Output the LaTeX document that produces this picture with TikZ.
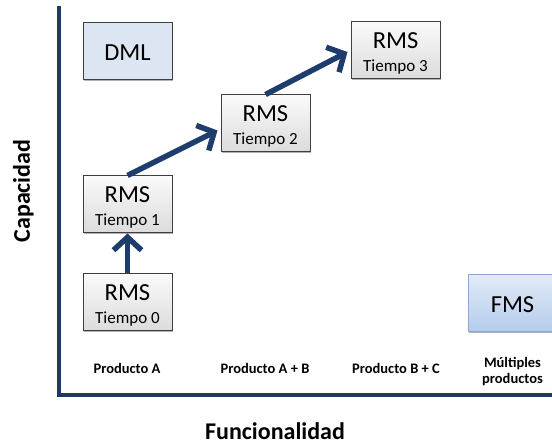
\documentclass[tikz,border=0pt]{standalone}
\usepackage{fontspec}
\setmainfont{Carlito}
\usetikzlibrary{arrows.meta,shadows,calc}

\definecolor{navy}{HTML}{1F3864}
\definecolor{arrowblue}{HTML}{1E3C6C}
\definecolor{boxedge}{HTML}{3F3F3F}
\definecolor{dmlfill}{HTML}{DCE6F2}
\definecolor{fmstop}{HTML}{E2EBF8}
\definecolor{fmsbot}{HTML}{B4CCEC}
\definecolor{fmsedge}{HTML}{8DA9CF}

\begin{document}
\begin{tikzpicture}[x=1pt,y=-1pt,
  stagebox/.style={draw=boxedge, line width=1pt, minimum width=89pt,
    minimum height=57pt, inner sep=0pt,
    drop shadow={shadow xshift=1.2pt, shadow yshift=-1.4pt, opacity=0.3, fill=black}},
  rmsbox/.style={stagebox, top color=gray!4, bottom color=gray!28},
  dmlbox/.style={stagebox, fill=dmlfill},
  fmsbox/.style={stagebox, draw=fmsedge, top color=fmstop, bottom color=fmsbot},
  bigtxt/.style={font=\fontsize{24.5}{28}\selectfont, inner sep=0pt, anchor=base},
  smalltxt/.style={font=\fontsize{17}{20}\selectfont, inner sep=0pt, anchor=base},
  prodtxt/.style={font=\fontsize{14.5}{17}\selectfont\bfseries, inner sep=0pt, anchor=base},
  axistxt/.style={font=\fontsize{24}{28}\selectfont\bfseries, inner sep=0pt, anchor=base},
  axisline/.style={draw=navy, line width=4.5pt, line join=miter},
  flow/.style={draw=arrowblue, line width=5.5pt,
    -{Straight Barb[length=13pt,width=28pt]}}
]
\clip (0,0) rectangle (552,446);

% axes
\coordinate (ytop) at (59,6);
\coordinate (origin) at (59,395);
\coordinate (xend) at (556,395);
\draw[axisline] (ytop) -- (origin) -- (xend);

% stage boxes
\node[dmlbox] (DML) at (127.5,51.5) {};
\node[rmsbox] (T0) at (127.5,302.5) {};
\node[rmsbox] (T1) at (127.5,204.5) {};
\node[rmsbox] (T2) at (265.5,123.5) {};
\node[rmsbox] (T3) at (395.5,50.5) {};
\node[fmsbox] (FMS) at (512.5,303) {};

% box texts
\node[bigtxt] (DMLt) at ($(DML.center)+(0,9.5)$) {DML};
\node[bigtxt] (FMSt) at ($(FMS.center)+(0,10)$) {FMS};
\foreach \n/\t in {T0/0,T1/1,T2/2,T3/3}{
  \node[bigtxt] (\n a) at ($(\n.center)+(0,-1.5)$) {RMS};
  \node[smalltxt] (\n b) at ($(\n.center)+(0,21.5)$) {Tiempo \t};
}

% evolution arrows
\draw[flow] (T0.north) -- (T1.south);
\draw[flow] (T1.north) -- ($(T2.west)+(-3,7)$);
\draw[flow] (T2.north) -- ($(T3.west)+(-3,1.5)$);

% product labels
\node[prodtxt] (pA) at (127,373.5) {Producto A};
\node[prodtxt] (pAB) at (265,373.5) {Producto A + B};
\node[prodtxt] (pBC) at (396,373.5) {Producto B + C};
\node[prodtxt] (pM1) at (512.5,367.5) {Múltiples};
\node[prodtxt] (pM2) at (512.5,383.5) {productos};

% axis titles
\node[axistxt] (xlab) at (275,439) {Funcionalidad};
\node[axistxt, rotate=90] (ylab) at (30,191) {Capacidad};
\end{tikzpicture}
\end{document}
